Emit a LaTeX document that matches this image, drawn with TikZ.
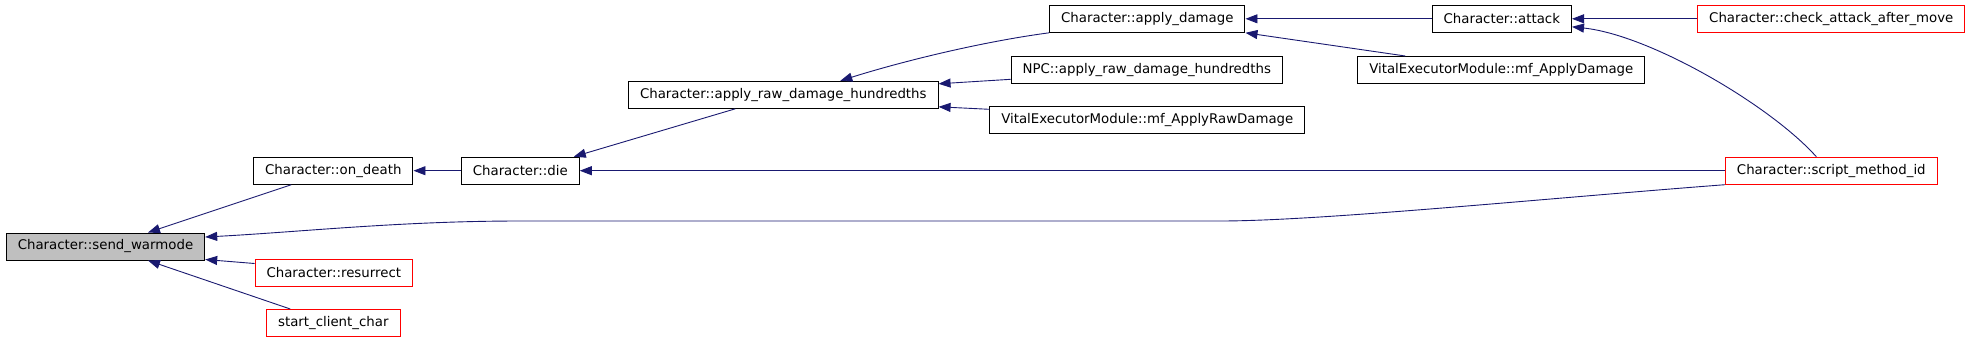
\documentclass[tikz,border=0pt]{standalone}
\usepackage{fontspec}
\setmainfont{DejaVu Sans}
\usetikzlibrary{arrows.meta}
\definecolor{edgeblue}{RGB}{25,25,112}
\definecolor{rootgray}{RGB}{191,191,191}

\begin{document}
\begin{tikzpicture}[
  x=1pt, y=-1pt,
  fn/.style={rectangle, draw=black, text=black, line width=1pt, minimum height=27pt, inner xsep=11.5pt, inner ysep=0pt, font=\fontsize{13.33}{16}\selectfont},
  root/.style={fn, fill=rootgray},
  ext/.style={fn, draw=red},
  arr/.style={-{Triangle[length=12pt, width=9pt]}, color=edgeblue, line width=0.9pt}
]
\useasboundingbox (0,0) rectangle (1971,341);

% Left column
\node[root] (warm) at (105.5,246.5) {Character::send\_warmode};
\node[fn] (ondeath) at (333.3,170.7) {Character::on\_death};
\node[ext] (resurrect) at (333.8,272.5) {Character::resurrect};
\node[ext] (startchar) at (333.3,323) {start\_client\_char};

% Middle columns
\node[fn] (die) at (520.3,170.7) {Character::die};
\node[fn] (rawdmg) at (783.3,94.8) {Character::apply\_raw\_damage\_hundredths};
\node[fn] (applydmg) at (1147.3,18.8) {Character::apply\_damage};
\node[fn] (npcraw) at (1146.8,70) {NPC::apply\_raw\_damage\_hundredths};
\node[fn] (vitalraw) at (1147.3,120.3) {VitalExecutorModule::mf\_ApplyRawDamage};

% Right columns
\node[fn] (attack) at (1501.8,18.8) {Character::attack};
\node[fn] (vitaldmg) at (1501.3,70) {VitalExecutorModule::mf\_ApplyDamage};
\node[ext] (checkmove) at (1831.3,18.8) {Character::check\_attack\_after\_move};
\node[ext] (scriptid) at (1831.3,170.7) {Character::script\_method\_id};

% Callers of send_warmode
\draw[arr] ([xshift=-42pt]ondeath.south) -- ([xshift=42.5pt]warm.north);
\draw[arr] ([yshift=9pt]resurrect.west) -- ([yshift=1pt]warm.south east);
\draw[arr] ([xshift=-43pt]startchar.north) -- ([xshift=42.5pt]warm.south);
\draw[arr] (scriptid.south west) .. controls (1550,198) and (1320,221) .. (1220,221)
  -- (520,221) .. controls (400,221) and (300,232) .. ([yshift=9.5pt]warm.east);

% Death chain
\draw[arr] (die.west) -- (ondeath.east);
\draw[arr] (scriptid.west) -- (die.east);
\draw[arr] ([xshift=-48pt]rawdmg.south) -- ([xshift=-6pt]die.north east);

% Damage chain
\draw[arr] (applydmg.south west) .. controls (980,42) and (900,62) .. ([xshift=57pt]rawdmg.north);
\draw[arr] ([yshift=-9.3pt]npcraw.west) -- ([yshift=11pt]rawdmg.east);
\draw[arr] ([yshift=11pt]vitalraw.west) -- ([yshift=-12pt]rawdmg.east);
\draw[arr] (attack.west) -- (applydmg.east);
\draw[arr] ([xshift=-96pt]vitaldmg.north) -- (applydmg.south east);

% Callers of attack
\draw[arr] (checkmove.west) -- (attack.east);
\draw[arr] ([xshift=-15pt]scriptid.north) .. controls (1770,105) and (1650,35) .. ([yshift=-8pt]attack.east);

\end{tikzpicture}
\end{document}
